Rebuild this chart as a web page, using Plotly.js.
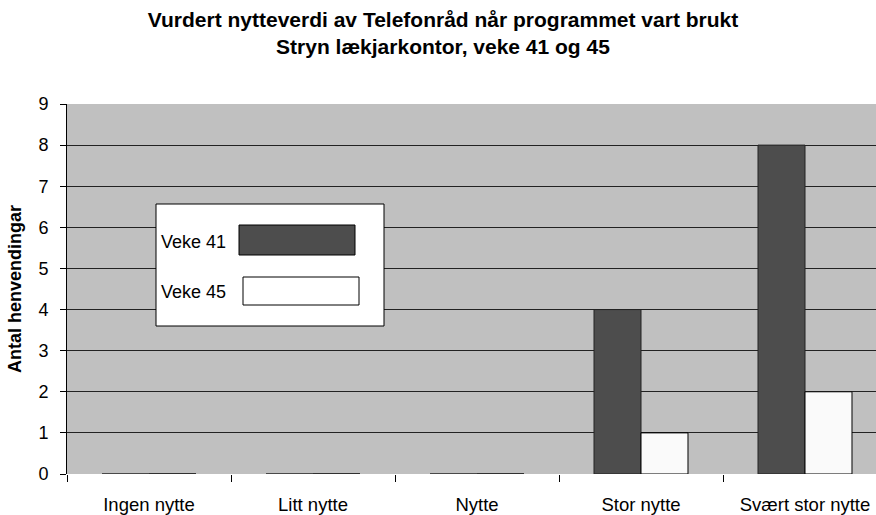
<!DOCTYPE html>
<html>
<head>
<meta charset="utf-8">
<script src="https://cdn.plot.ly/plotly-3.0.1.min.js"></script>
<style>
  body { margin: 0; background: #fff; overflow: hidden; }
  #plotly-div { width: 876px; height: 515px; overflow: hidden; }
</style>
</head>
<body>
<div id="plotly-div"></div>
<script>
// chart data
var categories = ['Ingen nytte', 'Litt nytte', 'Nytte', 'Stor nytte', 'Svært stor nytte'];
var seriesNames = ['Veke 41', 'Veke 45'];
var veke41 = [0, 0, 0, 4, 8];
var veke45 = [0, 0, 0, 1, 2];
var yTicks = [0, 1, 2, 3, 4, 5, 6, 7, 8, 9];

var font = 'Liberation Sans, Arial, sans-serif';

// the original plot area runs past the right edge of the picture, so the
// figure is wider than the window and gets clipped
var W = 890;
var L = 67, R = 887, T = 104, B = 474;
var px = function (x) { return (x - L) / (R - L); };
var py = function (y) { return (B - y) / (B - T); };

var dataPlot = [
  {x: categories, y: veke41, type: 'bar', name: seriesNames[0],
   marker: {color: '#4d4d4d', line: {color: '#222', width: 1}}},
  {x: categories, y: veke45, type: 'bar', name: seriesNames[1],
   marker: {color: '#fafafa', line: {color: '#000', width: 1}}}
];

var layout = {
  width: W, height: 515,
  margin: {l: L, r: W - R, t: T, b: 515 - B},
  paper_bgcolor: '#fff',
  plot_bgcolor: '#c0c0c0',
  font: {family: font, size: 18, color: '#000'},
  showlegend: false,
  bargap: 0.427, bargroupgap: 0,
  title: {
    text: '<b>Vurdert nytteverdi av Telefonråd når programmet vart brukt<br>Stryn lækjarkontor, veke 41 og 45</b>',
    font: {family: font, size: 21, color: '#000'},
    x: 443 / W, xanchor: 'center', xref: 'container',
    y: 0.948, yanchor: 'top'
  },
  xaxis: {
    type: 'category', tickson: 'boundaries', ticks: 'outside', ticklen: 7,
    tickcolor: '#000', showline: false, showgrid: false,
    tickfont: {size: 18.5}, ticklabelstandoff: 17
  },
  yaxis: {
    range: [0, 9], tickvals: yTicks, ticks: 'outside', ticklen: 6, tickcolor: '#000',
    showline: true, linecolor: '#000', linewidth: 1,
    showgrid: true, gridcolor: '#222', gridwidth: 1, zeroline: false,
    tickfont: {size: 18}, ticklabelstandoff: 8,
    title: {text: '<b>Antal henvendingar</b>', font: {size: 18}, standoff: 12}
  },
  shapes: [
    {type: 'rect', xref: 'paper', yref: 'paper', x0: px(156), x1: px(384), y0: py(326), y1: py(204),
     fillcolor: '#fff', line: {color: '#000', width: 1}},
    {type: 'rect', xref: 'paper', yref: 'paper', x0: px(239), x1: px(355), y0: py(255), y1: py(225),
     fillcolor: '#4d4d4d', line: {color: '#000', width: 1}},
    {type: 'rect', xref: 'paper', yref: 'paper', x0: px(243), x1: px(359), y0: py(305), y1: py(277),
     fillcolor: '#fff', line: {color: '#000', width: 1}}
  ],
  annotations: [
    {xref: 'paper', yref: 'paper', x: px(159), y: py(242), xanchor: 'left', yanchor: 'middle',
     text: seriesNames[0], showarrow: false, font: {size: 18}},
    {xref: 'paper', yref: 'paper', x: px(159), y: py(292), xanchor: 'left', yanchor: 'middle',
     text: seriesNames[1], showarrow: false, font: {size: 18}}
  ]
};

Plotly.newPlot('plotly-div', dataPlot, layout, {displayModeBar: false});
</script>
</body>
</html>
